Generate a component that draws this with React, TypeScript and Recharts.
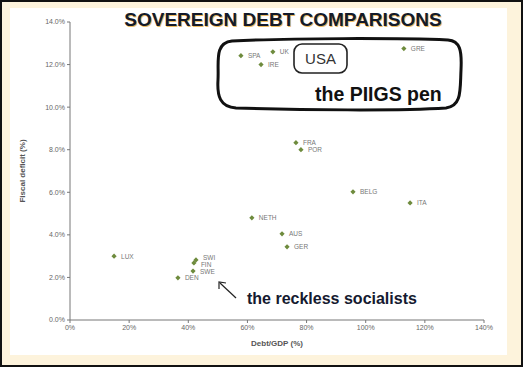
import React from "react";
import { Scatter, ScatterChart, XAxis, YAxis } from "recharts";

const countries = ["GRE", "SPA", "UK", "IRE", "FRA", "POR", "BELG", "ITA", "NETH", "AUS", "GER", "LUX", "SWI", "FIN", "SWE", "DEN"];
const debtToGdp = [112.9, 57.8, 68.6, 64.6, 76.4, 78.1, 95.7, 115, 61.5, 71.7, 73.4, 14.9, 42.6, 41.9, 41.6, 36.5];
const fiscalDeficit = [12.75, 12.42, 12.6, 12.0, 8.33, 8.0, 6.02, 5.5, 4.8, 4.05, 3.44, 3.0, 2.82, 2.68, 2.3, 1.98];

const xTicks = [0, 20, 40, 60, 80, 100, 120, 140];
const yTicks = [0, 2, 4, 6, 8, 10, 12, 14];

// small nudges so the crowded labels near 40% don't sit on top of each other
const labelNudge: Record<string, number> = { SWI: -2.5, FIN: 2 };

const points = countries.map((name, i) => ({
  name,
  debt: debtToGdp[i],
  deficit: fiscalDeficit[i],
}));

const font = "Liberation Sans, Arial, sans-serif";
const tickStyle = { fontSize: 7, fill: "#666", fontFamily: font };

function Marker(props: any) {
  const { cx, cy, payload } = props;
  const s = 2.6;
  const dy = labelNudge[payload.name] || 0;
  return (
    <g>
      <path
        d={`M${cx},${cy - s} L${cx + s},${cy} L${cx},${cy + s} L${cx - s},${cy} Z`}
        fill="#6e8b3d"
      />
      <text x={cx + 7} y={cy + 2.5 + dy} fontSize={6.5} fill="#777" fontFamily={font}>
        {payload.name}
      </text>
    </g>
  );
}

export default function App() {
  return (
    <div
      style={{
        position: "absolute",
        left: 0,
        top: 0,
        width: 523,
        height: 367,
        boxSizing: "border-box",
        border: "2px solid #111",
        background: "#fdf3dc",
      }}
    >
      <div
        style={{
          position: "absolute",
          left: 8,
          top: 6,
          width: 497,
          height: 347,
          background: "#fff",
        }}
      />
      <div style={{ position: "absolute", left: -2, top: -2 }}>
        <ScatterChart
          width={523}
          height={367}
          margin={{ top: 22, right: 39, bottom: 19, left: 30 }}
        >
          <XAxis
            type="number"
            dataKey="debt"
            domain={[0, 140]}
            ticks={xTicks}
            tickFormatter={(v) => `${v}%`}
            tick={tickStyle}
            stroke="#777"
            tickSize={3}
            height={28}
            label={{
              value: "Debt/GDP (%)",
              position: "insideBottom",
              offset: 2,
              style: { fontSize: 8, fontWeight: "bold", fill: "#555", fontFamily: font },
            }}
          />
          <YAxis
            type="number"
            dataKey="deficit"
            domain={[0, 14]}
            ticks={yTicks}
            tickFormatter={(v) => `${v.toFixed(1)}%`}
            tick={tickStyle}
            stroke="#777"
            tickSize={3}
            width={40}
            label={{
              value: "Fiscal deficit (%)",
              angle: -90,
              position: "insideLeft",
              offset: -8,
              style: { textAnchor: "middle", fontSize: 8, fontWeight: "bold", fill: "#555", fontFamily: font },
            }}
          />
          <Scatter data={points} shape={<Marker />} isAnimationActive={false} />
        </ScatterChart>
      </div>
      <svg
        width={523}
        height={367}
        style={{ position: "absolute", left: -2, top: -2, pointerEvents: "none" }}
      >
        <text
          x={284}
          y={27}
          textAnchor="middle"
          fontSize={19}
          fontWeight="bold"
          fill="#e8a020"
          fontFamily={font}
          opacity={0.7}
        >
          SOVEREIGN DEBT COMPARISONS
        </text>
        <text
          x={283}
          y={26}
          textAnchor="middle"
          fontSize={19}
          fontWeight="bold"
          fill="#141a2a"
          fontFamily={font}
        >
          SOVEREIGN DEBT COMPARISONS
        </text>
        <path
          d="M232,41 C290,38 400,38 448,40 C460,41 462,50 461,70 C460,90 462,106 446,108 C400,111 300,110 236,108 C220,107 217,96 218,80 C219,62 214,43 232,41 Z"
          fill="none"
          stroke="#111"
          strokeWidth={3}
        />
        <rect x={294} y={44} width={53} height={29} rx={8} fill="#fff" stroke="#222" strokeWidth={1.6} />
        <text x={320.5} y={64} textAnchor="middle" fontSize={15} fill="#333" fontFamily={font}>
          USA
        </text>
        <text x={315} y={101} fontSize={19.5} fontWeight="bold" fill="#111" fontFamily={font}>
          the PIIGS pen
        </text>
        <path d="M236,298 L220,283" stroke="#222" strokeWidth={1.2} fill="none" />
        <path d="M219,289 L219,282 L226,283" stroke="#222" strokeWidth={1.2} fill="none" />
        <text x={247} y={304} fontSize={16} fontWeight="bold" fill="#151a30" fontFamily={font}>
          the reckless socialists
        </text>
      </svg>
    </div>
  );
}
